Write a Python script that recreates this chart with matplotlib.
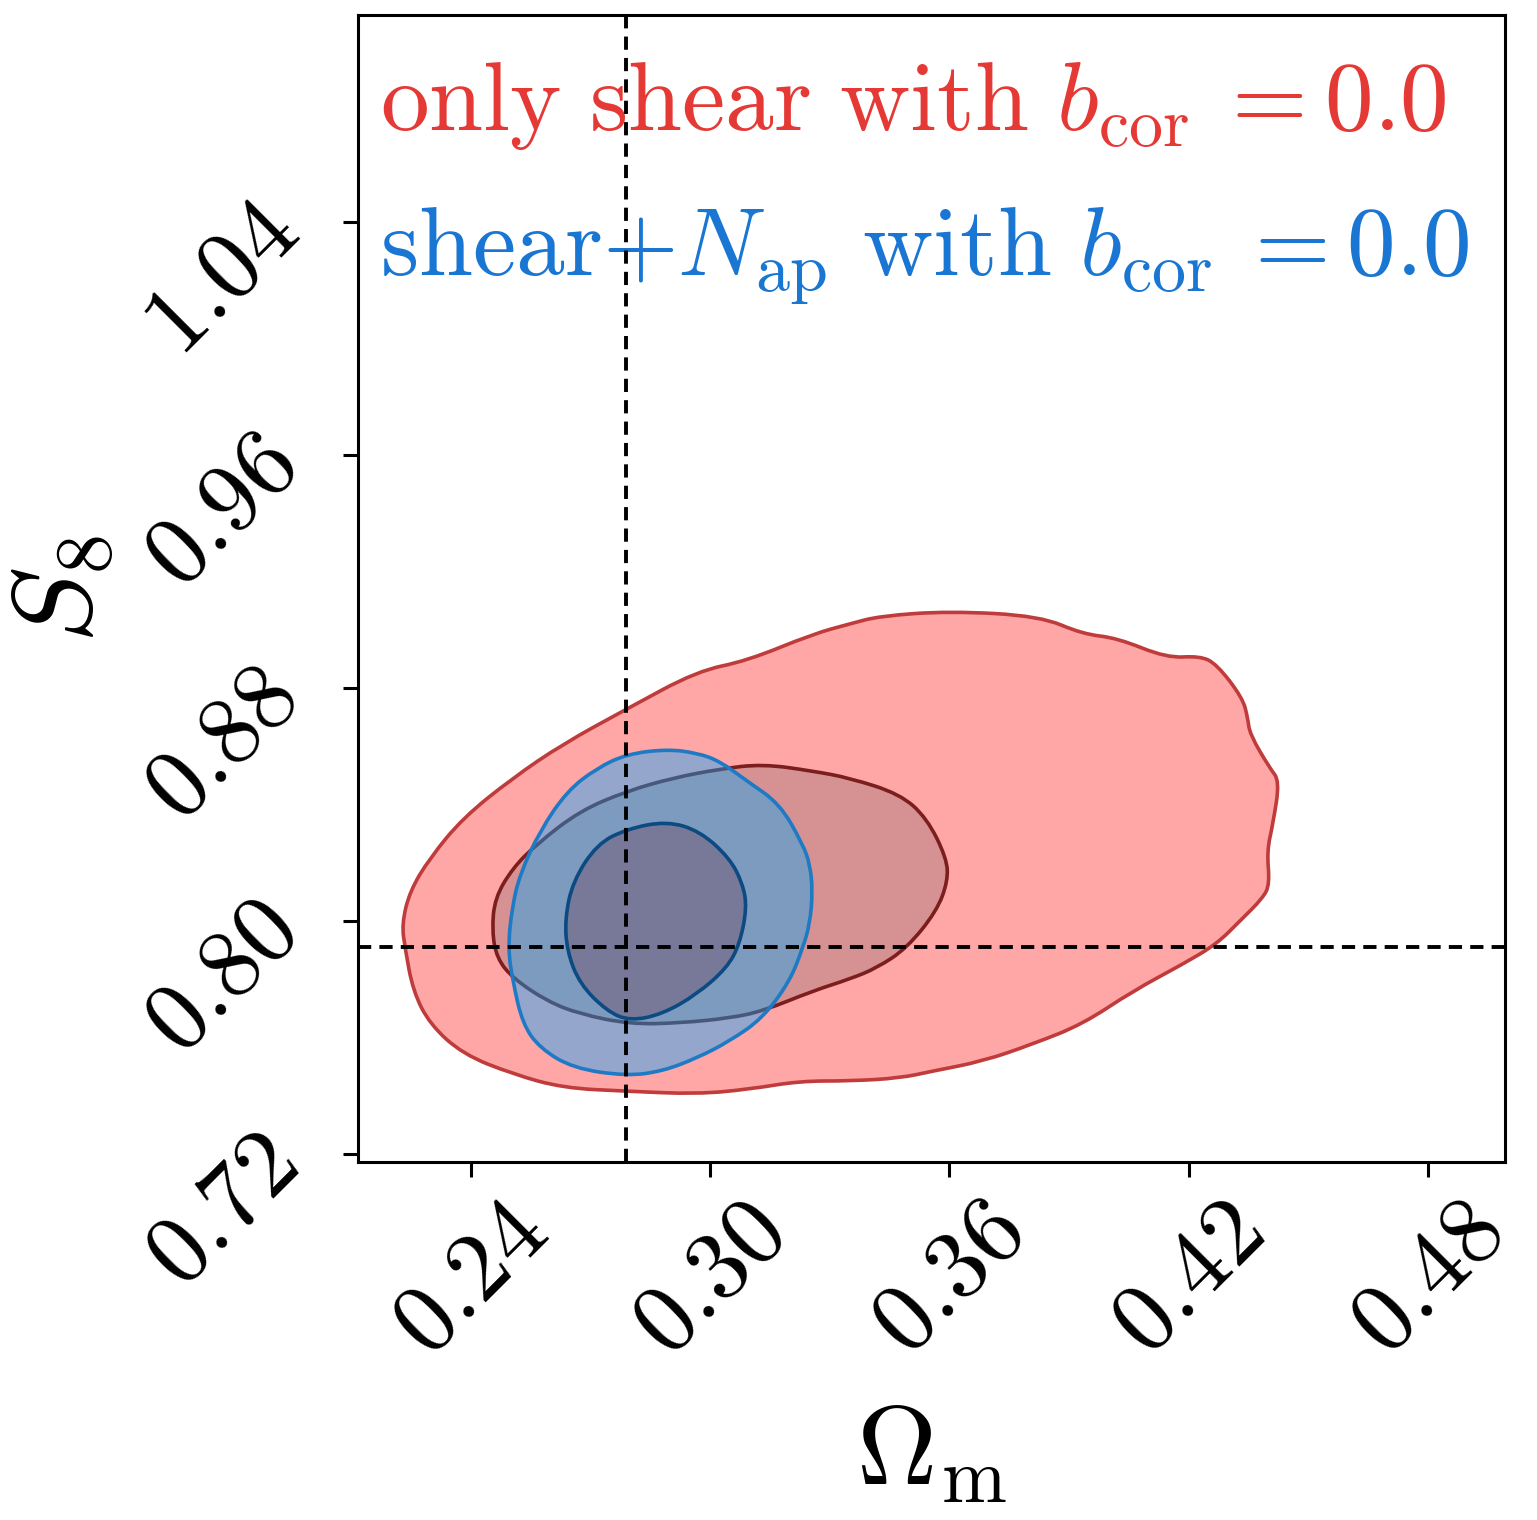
import numpy as np
import matplotlib
matplotlib.use("Agg")
import matplotlib.pyplot as plt
from matplotlib.patches import PathPatch
from matplotlib.path import Path

plt.rcParams['mathtext.fontset'] = 'cm'
plt.rcParams['font.family'] = ['DejaVu Serif']

# ---- data (Omega_m, S8) contour outlines ----
red_outer_om = [0.2227, 0.2235, 0.2255, 0.2297, 0.2380, 0.2505, 0.2631, 0.2791, 0.2967, 0.3099,
                0.3225, 0.3350, 0.3476, 0.3558, 0.3684, 0.3809, 0.3934, 0.4060, 0.4185, 0.4270,
                0.4328, 0.4386, 0.4403, 0.4396, 0.4411, 0.4428, 0.4403, 0.4353, 0.4348, 0.4335,
                0.4270, 0.4228, 0.4145, 0.4020, 0.3934, 0.3827, 0.3601, 0.3425, 0.3350, 0.3257,
                0.3092, 0.2967, 0.2791, 0.2631, 0.2505, 0.2380, 0.2297, 0.2247]
red_outer_s8 = [0.7990, 0.7907, 0.7760, 0.7646, 0.7543, 0.7475, 0.7427, 0.7416, 0.7406, 0.7423,
                0.7451, 0.7451, 0.7461, 0.7485, 0.7519, 0.7578, 0.7646, 0.7760, 0.7852, 0.7921,
                0.8000, 0.8079, 0.8127, 0.8240, 0.8333, 0.8481, 0.8525, 0.8642, 0.8697, 0.8766,
                0.8882, 0.8910, 0.8903, 0.8972, 0.8985, 0.9047, 0.9064, 0.9047, 0.9020, 0.8985,
                0.8893, 0.8858, 0.8728, 0.8608, 0.8491, 0.8354, 0.8216, 0.8103]

red_inner_om = [0.2453, 0.2465, 0.2505, 0.2591, 0.2673, 0.2799, 0.2924, 0.3049, 0.3132, 0.3257,
                0.3350, 0.3418, 0.3493, 0.3568, 0.3596, 0.3593, 0.3543, 0.3476, 0.3350, 0.3257,
                0.3132, 0.3024, 0.2906, 0.2791, 0.2673, 0.2565, 0.2505, 0.2460]
red_inner_s8 = [0.7966, 0.7873, 0.7804, 0.7725, 0.7681, 0.7646, 0.7650, 0.7667, 0.7691, 0.7760,
                0.7801, 0.7839, 0.7907, 0.8034, 0.8137, 0.8216, 0.8354, 0.8436, 0.8491, 0.8515,
                0.8539, 0.8522, 0.8491, 0.8446, 0.8378, 0.8264, 0.8182, 0.8079]

blue_outer_om = [0.2891, 0.2791, 0.2716, 0.2641, 0.2573, 0.2523, 0.2503, 0.2493, 0.2505, 0.2530,
                 0.2573, 0.2656, 0.2791, 0.2881, 0.2967, 0.3049, 0.3132, 0.3200, 0.3232, 0.3250,
                 0.3257, 0.3250, 0.3232, 0.3175, 0.3092, 0.3024, 0.2967]
blue_outer_s8 = [0.8590, 0.8573, 0.8525, 0.8446, 0.8309, 0.8161, 0.8045, 0.7907, 0.7794, 0.7646,
                 0.7564, 0.7495, 0.7468, 0.7485, 0.7530, 0.7588, 0.7667, 0.7794, 0.7907, 0.7990,
                 0.8103, 0.8196, 0.8264, 0.8402, 0.8481, 0.8549, 0.8577]

blue_inner_om = [0.2891, 0.2791, 0.2716, 0.2656, 0.2636, 0.2641, 0.2673, 0.2741, 0.2799, 0.2881,
                 0.2967, 0.3042, 0.3074, 0.3092, 0.3082, 0.3049, 0.2974]
blue_inner_s8 = [0.8343, 0.8316, 0.8264, 0.8137, 0.8010, 0.7897, 0.7784, 0.7691, 0.7657, 0.7681,
                 0.7749, 0.7839, 0.7921, 0.8045, 0.8127, 0.8216, 0.8309]

fid_om = 0.279
fid_s8 = 0.791

xticks = [0.24, 0.30, 0.36, 0.42, 0.48]
yticks = [0.72, 0.80, 0.88, 0.96, 1.04]
xtick_labels = ['0.24', '0.30', '0.36', '0.42', '0.48']
ytick_labels = ['0.72', '0.80', '0.88', '0.96', '1.04']

label_red = r'$\mathrm{only\ shear\ with}\ b_{\mathrm{cor}}\:=0.0$'
label_blue = r'$\mathrm{shear}{+}N_{\mathrm{ap}}\ \mathrm{with}\ b_{\mathrm{cor}}\:=0.0$'
xlabel = r'$\Omega_{\mathrm{m}}$'
ylabel = r'$S_8$'

# ---- figure ----
W, H = 1537, 1520
fig = plt.figure(figsize=(W / 100, H / 100), dpi=100)
ax = fig.add_axes([358 / W, 1 - 1162 / H, (1505 - 358) / W, (1162 - 15) / H])


def smooth_region(xs, ys, **kw):
    """Closed outline drawn as a chain of quadratic Bezier pieces through the traced points."""
    pts = np.column_stack([xs, ys])
    nxt = np.roll(pts, -1, axis=0)
    mids = 0.5 * (pts + nxt)
    verts = [mids[-1]]
    codes = [Path.MOVETO]
    for p, m in zip(pts, mids):
        verts += [p, m]
        codes += [Path.CURVE3, Path.CURVE3]
    verts.append(mids[-1])
    codes.append(Path.CLOSEPOLY)
    patch = PathPatch(Path(verts, codes), **kw)
    ax.add_patch(patch)


lw = 2.6
smooth_region(red_outer_om, red_outer_s8, facecolor='#FFA6A6', edgecolor='#C03B3B', lw=lw, zorder=1)
smooth_region(red_inner_om, red_inner_s8, facecolor='#D69292', edgecolor='#7D1E1E', lw=lw, zorder=1.1)
smooth_region(blue_outer_om, blue_outer_s8, facecolor=(0.0, 0.66, 1.0, 0.42), edgecolor='none', zorder=1.2)
smooth_region(blue_outer_om, blue_outer_s8, facecolor='none', edgecolor='#1E7AC4', lw=lw, zorder=1.3)
smooth_region(blue_inner_om, blue_inner_s8, facecolor='#787898', edgecolor='#0C4A82', lw=lw, zorder=1.4)

ax.axvline(fid_om, color='k', lw=2.8, dashes=(3.4, 2.1), zorder=5)
ax.axhline(fid_s8, color='k', lw=2.8, dashes=(3.4, 2.1), zorder=5)

ax.set_xlim(0.2117, 0.4993)
ax.set_ylim(0.7173, 1.111)

ax.set_xticks(xticks, labels=['$' + t + '$' for t in xtick_labels])
ax.set_yticks(yticks, labels=['$' + t + '$' for t in ytick_labels])
ax.tick_params(axis='both', length=11, width=2.2, labelsize=70)
ax.tick_params(axis='x', pad=6)
ax.tick_params(axis='y', pad=19)
for lab in ax.get_xticklabels():
    lab.set_rotation(45)
for lab in ax.get_yticklabels():
    lab.set_rotation(45)
for s in ax.spines.values():
    s.set_linewidth(2.2)

ax.set_xlabel(xlabel, fontsize=80)
ax.set_ylabel(ylabel, fontsize=82)
ax.xaxis.set_label_coords(0.5, -0.208)
ax.yaxis.set_label_coords(-0.21, 0.5)

ax.text(0.019, 0.8997, label_red, transform=ax.transAxes, color='#E53935',
        fontsize=70, ha='left', va='baseline', zorder=3)
ax.text(0.019, 0.7733, label_blue, transform=ax.transAxes, color='#1976D2',
        fontsize=70, ha='left', va='baseline', zorder=3)

fig.savefig('out.png', dpi=100)
